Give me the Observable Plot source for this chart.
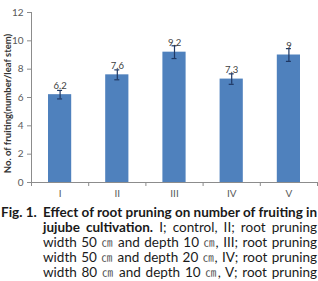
<!DOCTYPE html>
<html>
<head>
<meta charset="utf-8">
<script src="https://cdn.jsdelivr.net/npm/d3@7"></script>
<script src="https://cdn.jsdelivr.net/npm/@observablehq/plot@0.6"></script>
<style>
  html, body { margin: 0; padding: 0; background: #fff; width: 318px; overflow: hidden; }
  #chart svg { display: block; }
  .cap { display: flex; margin-top: 5px; font-family: Lato, "Open Sans", sans-serif; font-size: 13.5px; line-height: 15px; color: #1a1a1a; }
  .cap .fig { width: 42px; padding-left: 1px; font-weight: bold; white-space: nowrap; }
  .cap .body { width: 274px; }
  .cap .line { text-align: justify; text-align-last: justify; white-space: nowrap; }
  .cap .line.last { text-align-last: left; }
  .cap b { font-weight: bold; }
  .cm { font-family: "Noto Sans CJK KR", sans-serif; font-size: 11px; color: #555; }
</style>
</head>
<body>
<div id="chart"></div>
<div class="cap">
  <div class="fig">Fig. 1.</div>
  <div class="body">
    <div class="line"><b>Effect of root pruning on number of fruiting in</b></div>
    <div class="line"><b>jujube cultivation.</b> I; control, II; root pruning</div>
    <div class="line">width 50 <span class="cm">㎝</span> and depth 10 <span class="cm">㎝</span>, III; root pruning</div>
    <div class="line">width 50 <span class="cm">㎝</span> and depth 20 <span class="cm">㎝</span>, IV; root pruning</div>
    <div class="line">width 80 <span class="cm">㎝</span> and depth 10 <span class="cm">㎝</span>, V; root pruning</div>
    <div class="line last">width 80 <span class="cm">㎝</span> and depth 20 <span class="cm">㎝</span>.</div>
  </div>
</div>
<script>
// Treatments and measured fruiting counts (mean ± error)
const categories = ["I", "II", "III", "IV", "V"];
const values = [6.2, 7.6, 9.2, 7.3, 9];
const errors = [0.3, 0.35, 0.45, 0.37, 0.45];
const valueLabels = ["6.2", "7.6", "9.2", "7.3", "9"];
const yTicks = [0, 2, 4, 6, 8, 10, 12];
const yLabel = "No. of fruiting(number/leaf stem)";

const data = categories.map((c, i) => ({
  c, i, v: values[i], e: errors[i], label: valueLabels[i]
}));

const axisColor = "#8c8c8c";

const chart = Plot.plot({
  width: 318,
  height: 200,
  marginLeft: 31,
  marginRight: 1,
  marginTop: 12,
  marginBottom: 18,
  x: { domain: [0, categories.length] },
  y: { domain: [0, 12] },
  style: { fontFamily: "Lato, sans-serif", fontSize: "10px", color: "#595959", background: "#fff" },
  marks: [
    Plot.rectY(data, {
      x1: d => d.i, x2: d => d.i + 1, y: "v",
      insetLeft: 17, insetRight: 17, fill: "#4f81bd"
    }),
    Plot.ruleX(data, {
      x: d => d.i + 0.5, y1: d => d.v - d.e, y2: d => d.v + d.e,
      stroke: "#1f3864", strokeWidth: 1.2
    }),
    Plot.ruleY(data, {
      y: d => d.v + d.e, x1: d => d.i + 0.5, x2: d => d.i + 0.5,
      insetLeft: -2.5, insetRight: -2.5, stroke: "#1f3864", strokeWidth: 1.2
    }),
    Plot.ruleY(data, {
      y: d => d.v - d.e, x1: d => d.i + 0.5, x2: d => d.i + 0.5,
      insetLeft: -2.5, insetRight: -2.5, stroke: "#1f3864", strokeWidth: 1.2
    }),
    Plot.text(data, {
      x: d => d.i + 0.5, y: "v", text: "label", dy: -9,
      fill: "#404040", fontSize: 9.5
    }),
    Plot.ruleY([0], { stroke: axisColor }),
    Plot.ruleX([0], { stroke: axisColor }),
    Plot.axisY({
      ticks: yTicks, tickSize: 4, tickPadding: 4, stroke: axisColor,
      label: null, fill: "#595959"
    }),
    Plot.axisX({
      ticks: d3.range(categories.length + 1), tickSize: 4,
      tickFormat: () => "", stroke: axisColor, label: null
    }),
    Plot.axisX({
      ticks: categories.map((c, i) => i + 0.5), tickSize: 0, tickPadding: 7,
      tickFormat: d => categories[Math.floor(d)], label: null, fill: "#595959"
    }),
    Plot.text([yLabel], {
      frameAnchor: "left", textAnchor: "middle", rotate: -90, dx: -24, dy: 6,
      fontWeight: "bold", fontSize: 9.5, fill: "#333"
    })
  ]
});

document.getElementById("chart").append(chart);
</script>
</body>
</html>
